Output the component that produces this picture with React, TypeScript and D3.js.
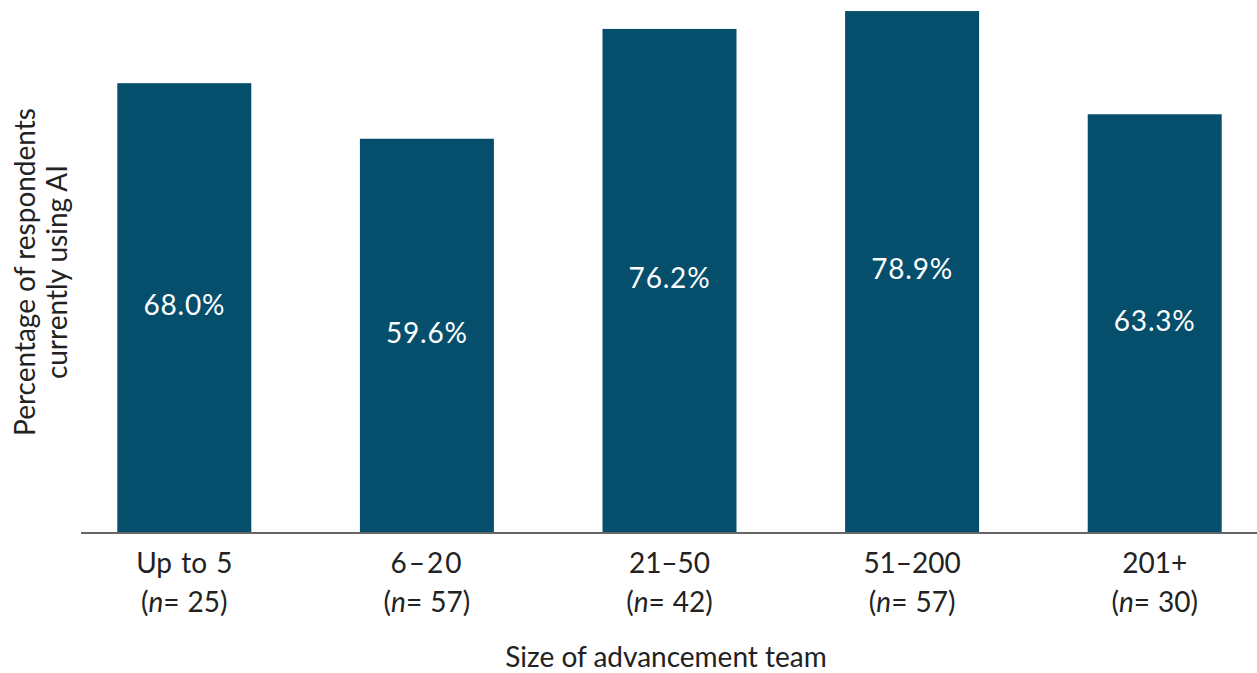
import React from "react";
import * as d3 from "d3";

const categories = ["Up to 5", "6–20", "21–50", "51–200", "201+"];
const sampleSizes = ["25", "57", "42", "57", "30"];
const values = [68.0, 59.6, 76.2, 78.9, 63.3];

const W = 1257;
const H = 673;
const FONT = "Lato, 'Open Sans', sans-serif";
const BAR = "#054F6D";
const TXT = "#222";

export default function App() {
  const x = d3
    .scaleBand<string>()
    .domain(categories)
    .range([82, 1257])
    .paddingInner(0.4477)
    .paddingOuter(0.1455)
    .align(0.5);
  const y = d3.scaleLinear().domain([0, 80]).range([533, 3.8]);

  return (
    <div style={{ position: "absolute", left: 0, top: 0 }}>
      <svg width={W} height={H} style={{ display: "block", background: "#fff" }}>
        {categories.map((c, i) => {
          const bx = x(c)!;
          const cx = bx + x.bandwidth() / 2;
          const top = y(values[i]);
          const base = y(0);
          return (
            <g key={c}>
              <rect x={bx} y={top} width={x.bandwidth()} height={base - top} fill={BAR} />
              <text
                x={cx}
                y={(top + base) / 2 + 7}
                textAnchor="middle"
                fill="#fff"
                fontFamily={FONT}
                fontSize={28}
                letterSpacing={0.8}
              >
                {values[i].toFixed(1) + "%"}
              </text>
              <text
                x={cx}
                y={573}
                textAnchor="middle"
                fill={TXT}
                fontFamily={FONT}
                fontSize={28}
                wordSpacing={2}
                letterSpacing={i === 1 ? 2 : 0}
              >
                {c}
              </text>
              <text
                x={cx}
                y={612}
                textAnchor="middle"
                fill={TXT}
                fontFamily={FONT}
                fontSize={28}
              >
                (<tspan fontStyle="italic">n</tspan>=<tspan dx={8}>{sampleSizes[i]}</tspan>)
              </text>
            </g>
          );
        })}
        <line x1={81} x2={1257} y1={y(0)} y2={y(0)} stroke="#666" strokeWidth={2} />
        <text
          transform="translate(35,272) rotate(-90)"
          textAnchor="middle"
          fill={TXT}
          fontFamily={FONT}
          fontSize={28}
        >
          Percentage of respondents
        </text>
        <text
          transform="translate(67,272) rotate(-90)"
          textAnchor="middle"
          fill={TXT}
          fontFamily={FONT}
          fontSize={28}
        >
          currently using AI
        </text>
        <text
          x={666}
          y={667}
          textAnchor="middle"
          fill={TXT}
          fontFamily={FONT}
          fontSize={28}
        >
          Size of advancement team
        </text>
      </svg>
    </div>
  );
}
